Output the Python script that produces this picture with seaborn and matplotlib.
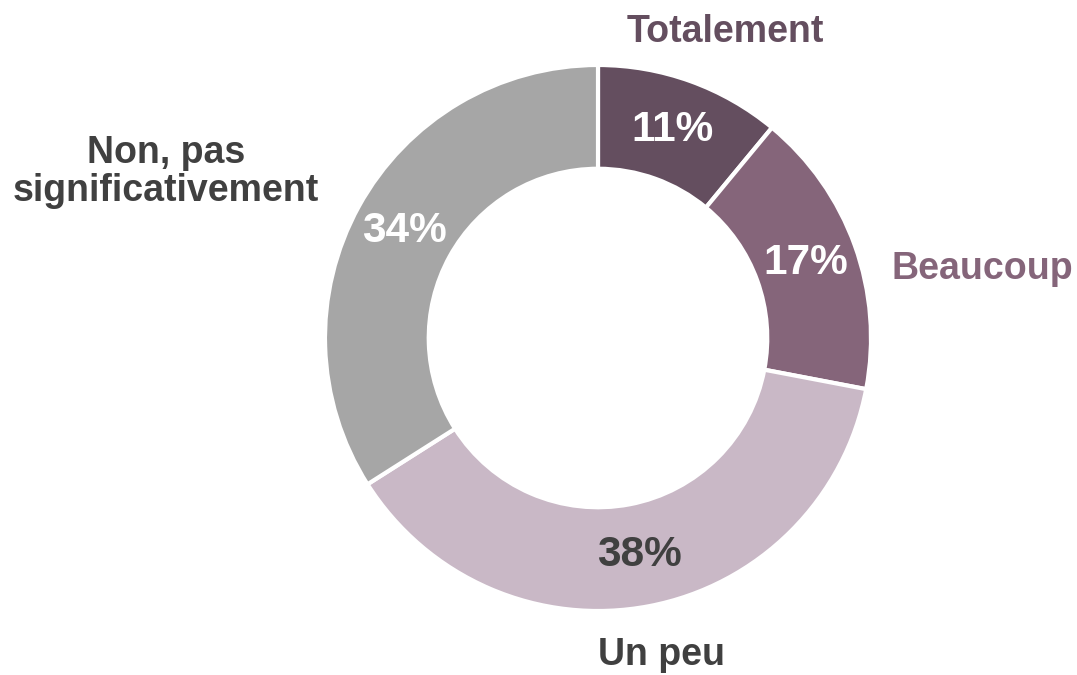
import matplotlib
matplotlib.use("Agg")
import matplotlib.pyplot as plt
import seaborn as sns

categories = ["Totalement", "Beaucoup", "Un peu", "Non, pas\nsignificativement"]
values = [11, 17, 38, 34]
colors = ["#644E5F", "#85657A", "#C9B8C6", "#A6A6A6"]
pct_colors = ["white", "white", "#404040", "white"]
label_colors = ["#644E5F", "#85657A", "#404040", "#404040"]

sns.set_theme(style="white")
plt.rcParams["font.family"] = ["Liberation Sans", "DejaVu Sans"]

W, H = 1077, 675
fig = plt.figure(figsize=(W / 100, H / 100), dpi=100)
ax = fig.add_axes([0, 0, 1, 1])

R = 273
cx, cy = 598, H - 338
wedges, texts, autotexts = ax.pie(
    values,
    colors=colors,
    startangle=90,
    counterclock=False,
    center=(cx, cy),
    radius=R,
    autopct="%.0f%%",
    pctdistance=0.81,
    wedgeprops=dict(width=R * 0.38, edgecolor="white", linewidth=3),
    textprops=dict(fontsize=30.5, fontweight="bold"),
)
for t, c in zip(autotexts, pct_colors):
    t.set_color(c)

ax.set_xlim(0, W)
ax.set_ylim(0, H)
ax.set_aspect("equal")
ax.axis("off")

lab_kw = dict(fontsize=27, fontweight="bold")
ax.text(725, H - 42, categories[0], ha="center", va="baseline", color=label_colors[0], **lab_kw)
ax.text(891, H - 279, categories[1], ha="left", va="baseline", color=label_colors[1], **lab_kw)
ax.text(662, H - 665, categories[2], ha="center", va="baseline", color=label_colors[2], **lab_kw)
ax.text(166, H - 172, categories[3], ha="center", va="center", color=label_colors[3],
        linespacing=1.1, multialignment="center", **lab_kw)

fig.savefig("out.png", dpi=100, facecolor="white")
